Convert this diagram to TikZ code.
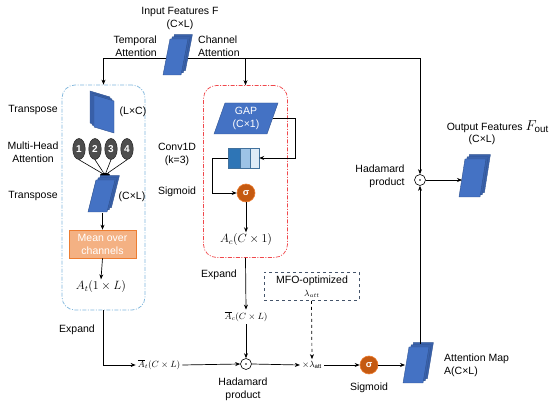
\documentclass[tikz,border=0pt]{standalone}
\usepackage{fontspec}
\setmainfont{Liberation Sans}
\usetikzlibrary{arrows.meta,calc,shapes.geometric}
\definecolor{fblue}{HTML}{4472C4}
\definecolor{bblue}{HTML}{3A62AC}
\definecolor{eblue}{HTML}{2F528F}
\definecolor{bbox}{HTML}{7FB6DC}
\definecolor{rbox}{HTML}{F0484C}
\definecolor{orfill}{HTML}{F4B183}
\definecolor{oredge}{HTML}{ED7D31}
\definecolor{sigfill}{HTML}{C55A11}
\definecolor{cA}{HTML}{2E75B6}
\definecolor{cB}{HTML}{9DC3E6}
\definecolor{cC}{HTML}{DEEBF7}
\definecolor{cedge}{HTML}{41719C}
\definecolor{mfoc}{HTML}{44546A}
\definecolor{headfill}{HTML}{4D4D4D}
\newcommand{\slantstack}[5]{%
  \begin{scope}[shift={(#1,#2)}]
    \foreach \k/\c in {2/bblue,1/bblue,0/fblue}{
      \filldraw[fill=\c, draw=eblue, line width=0.4pt, shift={(2.2*\k,-2.2*\k)}]
        (0,0) -- (#3,0) -- ({#3+#5},-#4) -- (#5,-#4) -- cycle;
    }
  \end{scope}}
\tikzset{
  lbl/.style={font=\fontsize{10.5}{13}\selectfont, align=center, inner sep=0},
  mth/.style={inner sep=1.5pt, font=\fontsize{12}{14}\selectfont},
  smth/.style={inner sep=2pt, font=\fontsize{9}{11}\selectfont},
  arr/.style={-{Stealth[length=5pt,width=4pt]}, line width=0.7pt},
  hada/.style={circle, draw, line width=0.6pt, minimum size=11pt, inner sep=0,
    path picture={\fill (path picture bounding box.center) circle (0.8pt);}},
  sig/.style={circle, fill=sigfill, draw=oredge, line width=0.6pt, minimum size=18pt, inner sep=0,
    text=white, font=\fontsize{9.5}{10}\selectfont\bfseries},
  head/.style={ellipse, fill=headfill, draw=black!85, line width=0.5pt, minimum width=12.5pt,
    minimum height=21pt, inner sep=0, text=white, font=\fontsize{10}{10}\selectfont\bfseries},
  dashbox/.style={dash pattern=on 4pt off 1.5pt on 1pt off 1.5pt, line width=0.7pt, rounded corners=13pt},
}
\begin{document}
\begin{tikzpicture}[x=1pt,y=-1pt]
\useasboundingbox (0,0) rectangle (550,406);

% boxes
\node[dashbox, draw=bbox, minimum width=83pt, minimum height=225pt, inner sep=0] (tbox) at (103.5,197.5) {};
\node[dashbox, draw=rbox, minimum width=84pt, minimum height=172pt, inner sep=0] (cbox) at (245.5,171.5) {};

% input
\coordinate (split) at (176,58);
\node[lbl] (intitle) at (180,12) {Input Features F};
\node[lbl] (indim) at (180,25) {(C×L)};
\node[lbl, anchor=east, align=right] (tatt) at (157,46) {Temporal\\Attention};
\node[lbl, anchor=west, align=left] (catt) at (198,46) {Channel\\Attention};
\node[hada] (had2) at (420,180) {};
\draw[arr] (split) -| (tbox.north);
\draw[arr] (split) -| (cbox.north);
\draw[arr] (split) -| (had2.north);
\slantstack{163}{75}{18}{36}{7}
\node[inner sep=0, minimum width=29pt, minimum height=40pt] (inF) at (177.5,55) {};

% temporal branch
\node[lbl] (tr1) at (33,110) {Transpose};
\begin{scope}
  \foreach \k/\c in {2/bblue,1/bblue,0/fblue}{
    \filldraw[fill=\c, draw=eblue, line width=0.4pt, shift={(-2*\k,-2*\k)}]
      (94,95) -- (114,101) -- (114,133) -- (94,127) -- cycle;
  }
\end{scope}
\node[inner sep=0, minimum width=24pt, minimum height=42pt] (lc) at (104,113) {};
\node[lbl] (lcdim) at (133,112) {(L×C)};
\node[lbl] (mha) at (33,152) {Multi-Head\\Attention};
\node[ellipse, fill=black, minimum width=10pt, minimum height=4.5pt, inner sep=0] (mh) at (105,175) {};
\node[head] (h1) at (79,149) {1};
\node[head] (h2) at (95,149) {2};
\node[head] (h3) at (111,149) {3};
\node[head] (h4) at (127,149) {4};
\foreach \h in {h1,h2,h3,h4} \draw[line width=0.6pt] (\h.south) -- (mh);
\slantstack{88}{212}{19}{32}{8}
\node[inner sep=0, minimum width=31pt, minimum height=36pt] (cl) at (103.5,194) {};
\node[lbl] (tr2) at (33,196) {Transpose};
\node[lbl] (cldim) at (132,197) {(C×L)};
\node[draw=oredge, fill=orfill, line width=0.6pt, minimum width=67pt, minimum height=28pt,
  text=white, lbl] (mean) at (102.5,244) {Mean over\\channels};
\coordinate (clb) at (102.5,213);
\draw[arr] (clb) -- (mean.north);
\node[mth] (at) at (101,287) {$A_t(1\times L)$};
\draw[arr] (mean.south) -- (at.north);
\node[lbl] (exp1) at (77,330) {Expand};
\node[smth] (atl) at (159,365) {$\overline{A}_t(C\times L)$};
\node[hada] (had1) at (246,364) {};
\draw[arr] (tbox.south) |- (atl.west);
\draw[arr] (atl.east) -- (had1.west);
\node[lbl] (hp1) at (243,389) {Hadamard\\product};

% channel branch
\filldraw[fill=fblue, draw=eblue, line width=0.4pt] (214,134) -- (267,134) -- (278,103) -- (225,103) -- cycle;
\node[lbl, text=white] (gap) at (246,118.5) {GAP\\(C×1)};
\coordinate (gapR) at (272.5,118.5);
\draw[cedge, line width=0.6pt, fill=cA] (228,148) rectangle (240,168);
\draw[cedge, line width=0.6pt, fill=cB] (240,148) rectangle (250,168);
\draw[cedge, line width=0.6pt, fill=cC] (250,148) rectangle (259,168);
\node[inner sep=0, minimum width=31pt, minimum height=20pt] (conv) at (243.5,158) {};
\node[sig] (sig1) at (246,193) {σ};
\draw[arr] (gapR) -- (295,118.5) |- (conv.east);
\draw[arr] (conv.west) -- (212,158) |- (sig1.west);
\node[mth] (ac) at (246,240) {$A_c(C\times 1)$};
\draw[arr] (sig1.south) -- (ac.north);
\node[lbl] (conv1d) at (177,154) {Conv1D\\(k=3)};
\node[lbl] (sg1) at (177,192) {Sigmoid};
\node[lbl] (exp2) at (219,275) {Expand};
\node[smth] (acl) at (246,317) {$\overline{A}_c(C\times L)$};
\draw[arr] (cbox.south) -- (acl.north);
\draw[arr] (acl.south) -- (had1.north);

% lambda
\node[draw=mfoc, dashed, line width=0.7pt, minimum width=95pt, minimum height=28pt, inner sep=0] (mfo) at (311.5,286.5) {};
\node[lbl] (mfot) at (312,280.5) {MFO-optimized};
\node[smth, inner sep=0] (mfol) at (312,294) {$\lambda_{att}$};
\node[smth] (lam) at (312,365) {$\times\lambda_{\mathrm{att}}$};
\draw[arr] (had1.east) -- (lam.west);
\draw[arr, dashed] (mfo.south) -- (lam.north);
\node[sig] (sig2) at (369,365) {σ};
\draw[arr] (lam.east) -- (sig2.west);
\node[lbl] (sg2) at (369,388) {Sigmoid};

% attention map
\slantstack{403}{383}{20}{36}{6}
\node[inner sep=0, minimum width=30pt, minimum height=40pt] (amap) at (418,363) {};
\coordinate (amapL) at (405,365);
\coordinate (amapT) at (420,344);
\draw[arr] (sig2.east) -- (amapL);
\draw[arr] (amapT) -- (had2.south);
\node[lbl, anchor=west, align=left] (amt) at (444,365) {Attention Map\\A(C×L)};

% output
\node[lbl, align=right] (hp2) at (380,176) {Hadamard\\product};
\slantstack{459}{197}{21}{38}{6}
\node[inner sep=0, minimum width=31pt, minimum height=42pt] (outF) at (474.5,176) {};
\coordinate (outL) at (462,180);
\draw[arr] (had2.east) -- (outL);
\node[lbl, anchor=east] (outt) at (549,127) {Output Features \fontsize{14}{14}\selectfont$F_{\mathrm{out}}$};
\node[lbl] (outd) at (482,140) {(C×L)};
\end{tikzpicture}
\end{document}
